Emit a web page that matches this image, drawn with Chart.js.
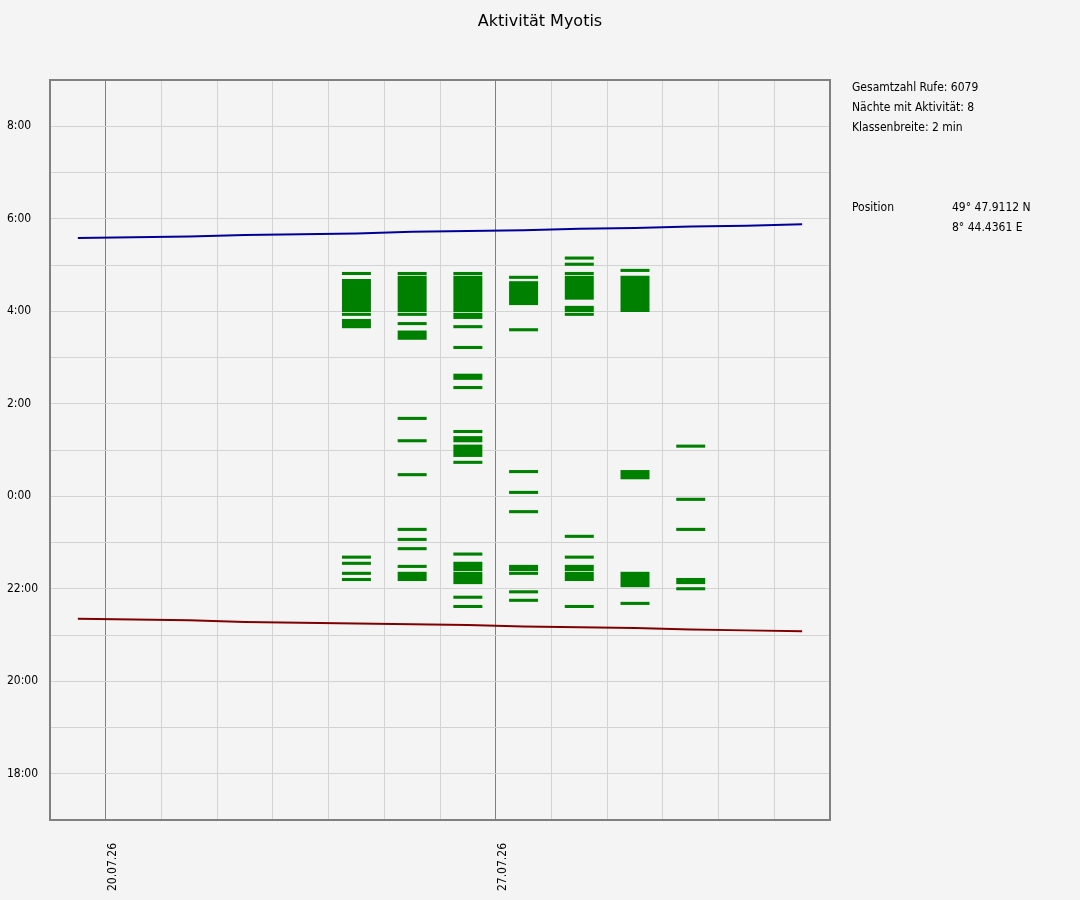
<!DOCTYPE html>
<html>
<head>
<meta charset="utf-8">
<title>Aktivität Myotis</title>
<script src="https://cdn.jsdelivr.net/npm/chart.js@4.4.1/dist/chart.umd.min.js"></script>
<style>
  body { margin: 0; background: #f4f4f4; }
  #wrap { position: relative; width: 1080px; height: 900px; }
  #titel { position: absolute; left: 0; top: 11px; width: 1080px; line-height: 20px; text-align: center;
           font: 16px "DejaVu Sans", sans-serif; color: #000; }
  .info { position: absolute; font: 12px "DejaVu Sans Condensed", "DejaVu Sans", sans-serif; line-height: 20px; color: #000; white-space: nowrap; }
</style>
</head>
<body>
<div id="wrap">
  <canvas id="grafik" width="1080" height="900"></canvas>
  <div id="titel">Aktivität Myotis</div>
  <div class="info" style="left:852px; top:77px">Gesamtzahl Rufe: 6079<br>Nächte mit Aktivität: 8<br>Klassenbreite: 2 min</div>
  <div class="info" style="left:852px; top:197px">Position</div>
  <div class="info" style="left:952px; top:197px">49° 47.9112 N<br>8° 44.4361 E</div>
</div>
<script>
// Tage (Tick-Werte 0..14), beschriftet werden nur die Montage
const days = ['19.07.26', '20.07.26', '21.07.26', '22.07.26', '23.07.26', '24.07.26', '25.07.26', '26.07.26',
              '27.07.26', '28.07.26', '29.07.26', '30.07.26', '31.07.26', '01.08.26', '02.08.26'];
const weekTicks = ['20.07.26', '27.07.26'];
const hourLabels = ['18:00', '20:00', '22:00', '0:00', '2:00', '4:00', '6:00', '8:00'];

// Sonnenaufgang / -untergang je Nacht (19.07. bis 01.08.)
const sunrise = ['05:35', '05:36', '05:37', '05:39', '05:40', '05:41', '05:43', '05:44',
                 '05:45', '05:47', '05:48', '05:50', '05:51', '05:53'];
const sunset = ['21:21', '21:20', '21:19', '21:17', '21:16', '21:15', '21:14', '21:13',
                '21:11', '21:10', '21:09', '21:07', '21:06', '21:05'];

// Aktivitaet (von-bis) je Nacht
const act2407 = ['04:47-04:51', '03:59-04:42', '03:54-03:58', '03:38-03:50', '22:39-22:43', '22:31-22:35', '22:18-22:22', '22:10-22:14'];
const act2507 = ['04:47-04:51', '03:59-04:46', '03:54-03:58', '03:42-03:46', '03:23-03:35', '01:39-01:43', '01:10-01:14',
                 '00:26-00:30', '23:15-23:19', '23:02-23:06', '22:50-22:54', '22:27-22:31', '22:10-22:22'];
const act2607 = ['04:47-04:51', '03:59-04:46', '03:50-03:58', '03:38-03:42', '03:11-03:15', '02:31-02:39', '02:19-02:23',
                 '01:22-01:26', '01:10-01:18', '00:51-01:07', '00:42-00:46', '22:43-22:47', '22:23-22:35', '22:06-22:22',
                 '21:47-21:51', '21:35-21:39'];
const act2707 = ['04:42-04:46', '04:08-04:39', '03:34-03:38', '00:30-00:34', '00:03-00:07', '23:38-23:42', '22:23-22:31',
                 '22:18-22:22', '21:54-21:58', '21:43-21:47'];
const act2807 = ['05:07-05:11', '04:59-05:03', '04:47-04:51', '04:15-04:46', '03:59-04:07', '03:54-03:58', '23:06-23:10',
                 '22:39-22:43', '22:23-22:31', '22:10-22:22', '21:35-21:39'];
const act2907 = ['04:51-04:55', '03:59-04:46', '00:22-00:34', '22:02-22:22', '21:39-21:43'];
const act3007 = ['01:03-01:07', '23:54-23:58', '23:15-23:19', '22:06-22:14', '21:58-22:02'];
const activeNights = ['24.07.26', '25.07.26', '26.07.26', '27.07.26', '28.07.26', '29.07.26', '30.07.26'];
const activity = [act2407, act2507, act2607, act2707, act2807, act2907, act3007];

// "HH:MM" -> Stunden relativ zu Mitternacht (abends negativ)
function stunden(t) {
  const [h, m] = t.split(':').map(Number);
  const v = h + m / 60;
  return v >= 12 ? v - 24 : v;
}
function uhrzeit(v) {
  return (((v % 24) + 24) % 24) + ':00';
}

const barData = [];
activeNights.forEach(function (n, k) {
  const x = days.indexOf(n) + 0.5;
  activity[k].forEach(function (s) {
    const [a, b] = s.split('-');
    barData.push({ x: x, y: [stunden(a), stunden(b)] });
  });
});
const sunriseData = sunrise.map((t, i) => ({ x: i + 0.5, y: stunden(t) }));
const sunsetData = sunset.map((t, i) => ({ x: i + 0.5, y: stunden(t) }));

const rahmen = {
  id: 'rahmen',
  afterDraw(chart) {
    const { ctx, chartArea: a } = chart;
    ctx.save();
    ctx.strokeStyle = '#808080';
    ctx.lineWidth = 2;
    ctx.strokeRect(a.left, a.top, a.right - a.left, a.bottom - a.top);
    ctx.restore();
  }
};

const schrift = { family: '"DejaVu Sans Condensed", "DejaVu Sans", sans-serif', size: 12 };

new Chart(document.getElementById('grafik'), {
  type: 'bar',
  data: {
    datasets: [
      { type: 'line', data: sunriseData, borderColor: '#000099', borderWidth: 2, pointRadius: 0, order: 0 },
      { type: 'line', data: sunsetData, borderColor: '#800000', borderWidth: 2, pointRadius: 0, order: 0 },
      { type: 'bar', data: barData, backgroundColor: '#008000', borderWidth: 0, grouped: false,
        barPercentage: 0.52, categoryPercentage: 1, order: 1 }
    ]
  },
  options: {
    responsive: false,
    animation: false,
    layout: { padding: { left: 7, top: 80, right: 250, bottom: 0 } },
    plugins: { legend: { display: false }, tooltip: { enabled: false } },
    scales: {
      x: {
        type: 'linear', min: 0, max: 14, offset: false,
        grid: {
          offset: false, drawTicks: false,
          color: c => (c.tick && weekTicks.includes(days[c.tick.value])) ? '#808080' : '#d3d3d3'
        },
        border: { display: false },
        ticks: {
          stepSize: 1, autoSkip: false, maxRotation: 90, minRotation: 90, padding: 23, labelOffset: 7,
          color: '#000', font: schrift,
          callback: v => weekTicks.includes(days[v]) ? days[v] : ''
        },
        afterFit: s => { s.height = 80; }
      },
      y: {
        min: -7, max: 9,
        grid: { color: '#d3d3d3', drawTicks: false },
        border: { display: false },
        ticks: {
          stepSize: 1, autoSkip: false, crossAlign: 'far', color: '#000', font: schrift,
          callback: v => hourLabels.includes(uhrzeit(v)) ? uhrzeit(v) : ''
        },
        afterFit: s => { s.width = 43; }
      }
    }
  },
  plugins: [rahmen]
});
</script>
</body>
</html>
